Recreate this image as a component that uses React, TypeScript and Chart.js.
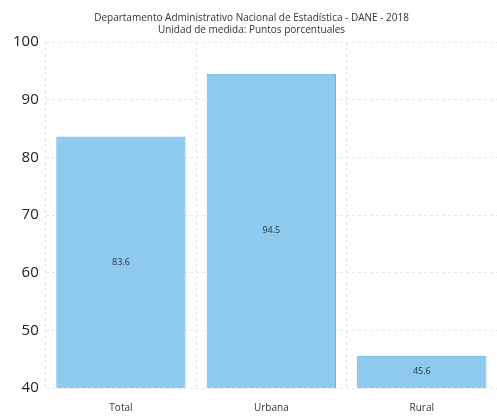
import React, { useEffect, useRef } from "react";
import { Chart, registerables } from "chart.js";

Chart.register(...registerables);

const categories = ["Total", "Urbana", "Rural"];
const values = [83.6, 94.5, 45.6];
const valueLabels = ["83.6", "94.5", "45.6"];
const titleLines = [
  "Departamento Administrativo Nacional de Estadística - DANE - 2018",
  "Unidad de medida: Puntos porcentuales",
];

const valueLabelPlugin = {
  id: "valueLabels",
  afterDatasetsDraw(chart: any) {
    const ctx = chart.ctx;
    const meta = chart.getDatasetMeta(0);
    const yScale = chart.scales.y;
    ctx.save();
    ctx.font = "9px 'Open Sans', sans-serif";
    ctx.fillStyle = "#2a3440";
    ctx.textAlign = "center";
    ctx.textBaseline = "middle";
    meta.data.forEach((bar: any, i: number) => {
      const base = Math.min(bar.base, yScale.bottom);
      const y = (bar.y + base) / 2;
      ctx.fillText(valueLabels[i], bar.x, y);
    });
    ctx.restore();
  },
};

export default function App() {
  const ref = useRef<HTMLCanvasElement>(null);
  useEffect(() => {
    if (!ref.current) return;
    const chart = new Chart(ref.current, {
      type: "bar",
      data: {
        labels: categories,
        datasets: [
          {
            data: values,
            backgroundColor: "#8ecaef",
            borderColor: "#5fb0e2",
            borderWidth: 1,
            barPercentage: 0.86,
            categoryPercentage: 1,
          },
        ],
      },
      plugins: [valueLabelPlugin],
      options: {
        responsive: false,
        animation: false,
        layout: { padding: { top: 12, right: 0, left: 6, bottom: 0 } },
        plugins: {
          legend: { display: false },
          tooltip: { enabled: false },
          title: {
            display: true,
            text: titleLines,
            color: "#333",
            font: { size: 10, family: "'Open Sans', sans-serif", weight: "normal" },
            padding: { top: 0, bottom: 6 },
          },
        },
        scales: {
          x: {
            afterFit: (s: any) => {
              s.height = 31;
            },
            grid: {
              display: true,
              offset: true,
              color: "#e2e2e2",
              drawTicks: false,
            },
            border: { display: false, dash: [3, 3] },
            ticks: {
              color: "#333",
              font: { size: 10, family: "'Open Sans', sans-serif" },
              padding: 14,
            },
          },
          y: {
            min: 40,
            max: 100,
            ticks: {
              stepSize: 10,
              color: "#222",
              font: { size: 15, family: "'Open Sans', sans-serif" },
              padding: 7,
            },
            grid: { color: "#e6e6e6", drawTicks: false },
            border: { display: false, dash: [3, 3] },
          },
        },
      },
    });
    return () => chart.destroy();
  }, []);
  return (
    <div style={{ position: "fixed", left: 0, top: 0, width: 497, height: 419, background: "#fff" }}>
      <canvas ref={ref} width={497} height={419} />
    </div>
  );
}
